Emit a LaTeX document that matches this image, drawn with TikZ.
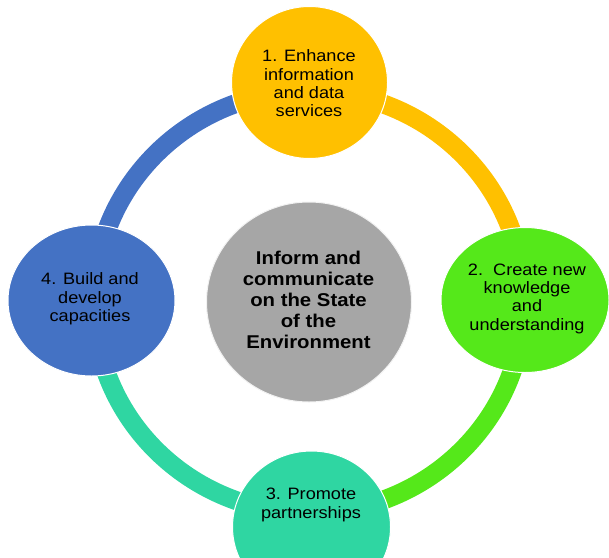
\documentclass[tikz,border=0pt]{standalone}
\usepackage{fontspec}
\setmainfont{Liberation Sans}[FakeStretch=1.1]
\usetikzlibrary{shapes.geometric}
\definecolor{cYellow}{HTML}{FFC000}
\definecolor{cGreen}{HTML}{55E81A}
\definecolor{cTeal}{HTML}{2FD6A2}
\definecolor{cBlue}{HTML}{4472C4}
\definecolor{cGray}{HTML}{A6A6A6}
\tikzset{
  ringarc/.style={line width=19pt, line cap=butt},
  sat/.style={ellipse, draw=white, line width=1pt, inner sep=0pt},
  sattext/.style={align=center, text=black, font=\fontsize{16.5}{18.3}\selectfont, inner sep=0pt},
  midtext/.style={align=center, text=black, font=\bfseries\fontsize{18.5}{21}\selectfont, inner sep=0pt}
}
\begin{document}
\begin{tikzpicture}[x=1pt, y=-1pt]
\useasboundingbox (0,0) rectangle (609,557);
\coordinate (ring) at (309,302);
% ring arcs (y axis points down: 270 = top, 90 = bottom)
\draw[ringarc, cBlue]   (ring) ++(180:215 and 211) arc[start angle=180, end angle=270, x radius=215, y radius=211];
\draw[ringarc, cYellow] (ring) ++(270:215 and 211) arc[start angle=270, end angle=360, x radius=215, y radius=211];
\draw[ringarc, cGreen]  (ring) ++(0:215 and 211) arc[start angle=0, end angle=90, x radius=215, y radius=211];
\draw[ringarc, cTeal]   (ring) ++(90:215 and 211) arc[start angle=90, end angle=180, x radius=215, y radius=211];
% satellites
\node[sat, fill=cYellow, minimum width=156pt, minimum height=152pt] (s1) at (309.5,82.5) {};
\node[sat, fill=cGreen, minimum width=168pt, minimum height=145pt] (s2) at (525,300) {};
\node[sat, fill=cTeal, minimum width=158pt, minimum height=152pt] (s3) at (311.5,527) {};
\node[sat, fill=cBlue, minimum width=167pt, minimum height=151pt] (s4) at (91.5,300.5) {};
\node[ellipse, fill=cGray, draw=white!85!cGray, line width=1pt, minimum width=205pt, minimum height=200pt, inner sep=0pt] (c) at (309,302) {};
% texts
\node[sattext] (t1) at (309,83.5) {1. Enhance\\information\\and data\\services};
\node[sattext] (t2) at (527,298.5) {2.\ \ Create new\\knowledge\\and\\understanding};
\node[sattext] (t3) at (311,505) {3. Promote\\partnerships};
\node[sattext] (t4) at (90,299) {4. Build and\\develop\\capacities};
\node[midtext] (tc) at (308.5,299.5) {Inform and\\communicate\\on the State\\of the\\Environment};
\end{tikzpicture}
\end{document}
